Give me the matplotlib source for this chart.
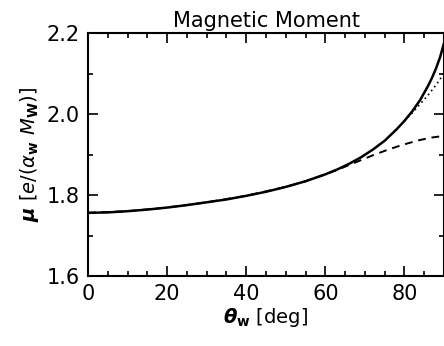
import numpy as np
import matplotlib
matplotlib.use('Agg')
import matplotlib.pyplot as plt
from matplotlib.ticker import MultipleLocator, FormatStrFormatter

# values
theta = [0, 5, 10, 15, 20, 25, 30, 35, 40, 45, 50, 55, 60, 63, 66, 69, 72,
         75, 78, 80, 82, 84, 86, 87, 88, 89, 90]
mu_full = [1.756, 1.757, 1.760, 1.764, 1.769, 1.775, 1.782, 1.789, 1.798,
           1.808, 1.820, 1.834, 1.851, 1.863, 1.877, 1.893, 1.912, 1.934,
           1.962, 1.983, 2.007, 2.035, 2.070, 2.090, 2.113, 2.140, 2.175]
theta_d = [0, 10, 20, 30, 40, 50, 55, 60, 63, 66, 69, 72, 75, 78, 81, 84, 87, 90]
mu_dash = [1.756, 1.760, 1.769, 1.782, 1.798, 1.820, 1.834, 1.851, 1.862,
           1.874, 1.886, 1.898, 1.909, 1.919, 1.928, 1.936, 1.942, 1.946]
theta_p = [80, 82, 84, 86, 88, 90]
mu_dot = [1.983, 2.003, 2.025, 2.047, 2.072, 2.100]

plt.rcParams['font.family'] = ['DejaVu Sans']
plt.rcParams['mathtext.fontset'] = 'dejavusans'

fig = plt.figure(figsize=(4.44, 3.46), dpi=100)
ax = fig.add_axes([88 / 444, 1 - 276 / 346, 356 / 444, 243 / 346])

ax.plot(theta, mu_full, color='black', lw=1.8)
ax.plot(theta_d, mu_dash, color='black', lw=1.4, ls=(0, (4, 3)))
ax.plot(theta_p, mu_dot, color='black', lw=1.2, ls=(0, (1, 2)))

ax.set_xlim(0, 90)
ax.set_ylim(1.6, 2.2)
ax.xaxis.set_major_locator(MultipleLocator(20))
ax.xaxis.set_minor_locator(MultipleLocator(5))
ax.yaxis.set_major_locator(MultipleLocator(0.2))
ax.yaxis.set_minor_locator(MultipleLocator(0.1))
ax.yaxis.set_major_formatter(FormatStrFormatter('%.1f'))
ax.tick_params(which='both', direction='in', top=True, right=True,
               labelsize=15, width=1.2, pad=6)
ax.tick_params(which='major', length=7)
ax.tick_params(which='minor', length=3.5)
for s in ax.spines.values():
    s.set_linewidth(1.5)

ax.set_title('Magnetic Moment', fontsize=15, pad=4)
ax.set_xlabel(r'$\boldsymbol{\theta}_{\mathbf{w}}$ [deg]', fontsize=14, labelpad=1)
ax.set_ylabel(r'$\boldsymbol{\mu}$ [$e/(\alpha_{\mathbf{w}}\ M_{\mathbf{W}})$]',
              fontsize=14, labelpad=4)

fig.savefig('out.png', dpi=100)
